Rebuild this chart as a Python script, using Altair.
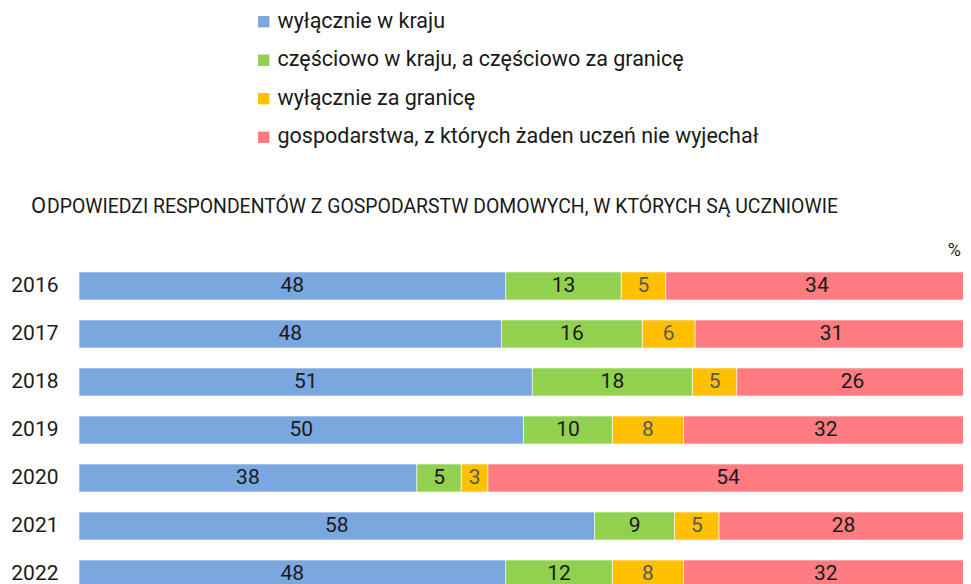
import altair as alt
import pandas as pd

years = ["2016", "2017", "2018", "2019", "2020", "2021", "2022"]
categories = [
    "wyłącznie w kraju",
    "częściowo w kraju, a częściowo za granicę",
    "wyłącznie za granicę",
    "gospodarstwa, z których żaden uczeń nie wyjechał",
]
colors = ["#7BA7E1", "#92D050", "#FFC000", "#FF7C80"]
label_colors = ["#1a1a1a", "#1a1a1a", "#595959", "#1a1a1a"]
v_domestic = [48, 48, 51, 50, 38, 58, 48]
v_partly = [13, 16, 18, 10, 5, 9, 12]
v_abroad = [5, 6, 5, 8, 3, 5, 8]
v_none = [34, 31, 26, 32, 54, 28, 32]

rows = []
for ci, (cat, vals) in enumerate(zip(categories, [v_domestic, v_partly, v_abroad, v_none])):
    for y, v in zip(years, vals):
        rows.append({"year": y, "cat": cat, "order": ci, "value": v, "lc": label_colors[ci]})
df = pd.DataFrame(rows)

FONT = "Roboto"

base = alt.Chart(df).transform_stack(
    stack="value", groupby=["year"], as_=["x0", "x1"], offset="normalize",
    sort=[alt.SortField("order", order="ascending")],
).transform_calculate(mid="(datum.x0 + datum.x1) / 2")

yenc = alt.Y("year:N", sort=years,
             scale=alt.Scale(paddingInner=0.4167, paddingOuter=0.2083),
             axis=alt.Axis(title=None, domain=False, ticks=False, labelFontSize=21,
                           labelColor="#1a1a1a", labelFont=FONT, labelPadding=21))

bars = base.mark_bar(stroke="white", strokeWidth=1, strokeOpacity=0.6).encode(
    x=alt.X("x0:Q", scale=alt.Scale(domain=[0, 1], nice=False, zero=True), axis=None),
    x2="x1:Q",
    y=yenc,
    color=alt.Color("cat:N", sort=categories,
                    scale=alt.Scale(domain=categories, range=colors),
                    legend=alt.Legend(title=None, orient="none", legendX=174, legendY=-251,
                                      direction="vertical", symbolType="square",
                                      symbolSize=130, symbolStrokeWidth=0,
                                      labelFontSize=21.5, labelFont=FONT, labelColor="#1a1a1a",
                                      rowPadding=15.5, labelOffset=3, labelLimit=700)),
)

texts = base.mark_text(fontSize=21, font=FONT, baseline="middle").encode(
    x=alt.X("mid:Q"),
    y=alt.Y("year:N", sort=years),
    text="value:Q",
    color=alt.Color("lc:N", scale=None),
)

ann = pd.DataFrame({"a": [0]})
sub_o = alt.Chart(ann).mark_text(text="O", fontSize=22, font=FONT, align="left",
                                 baseline="alphabetic", color="#1a1a1a").encode(
    x=alt.value(-48), y=alt.value(-49))
sub_rest = alt.Chart(ann).mark_text(
    text="DPOWIEDZI RESPONDENTÓW Z GOSPODARSTW DOMOWYCH, W KTÓRYCH SĄ UCZNIOWIE",
    fontSize=19.4, font=FONT, align="left", baseline="alphabetic", color="#1a1a1a").encode(
    x=alt.value(-32), y=alt.value(-49))
pct = alt.Chart(ann).mark_text(text="%", fontSize=18, font=FONT, align="right",
                               baseline="middle", color="#1a1a1a").encode(
    x=alt.value(882), y=alt.value(-11))

chart = alt.layer(bars, texts, sub_o, sub_rest, pct).properties(
    width=889, height=336,
    autosize=alt.AutoSizeParams(type="none"),
    padding={"left": 71, "top": 254, "right": -5, "bottom": 5},
).configure_view(stroke=None)

chart.save("out.html", embed_options={"renderer": "svg", "actions": False})
